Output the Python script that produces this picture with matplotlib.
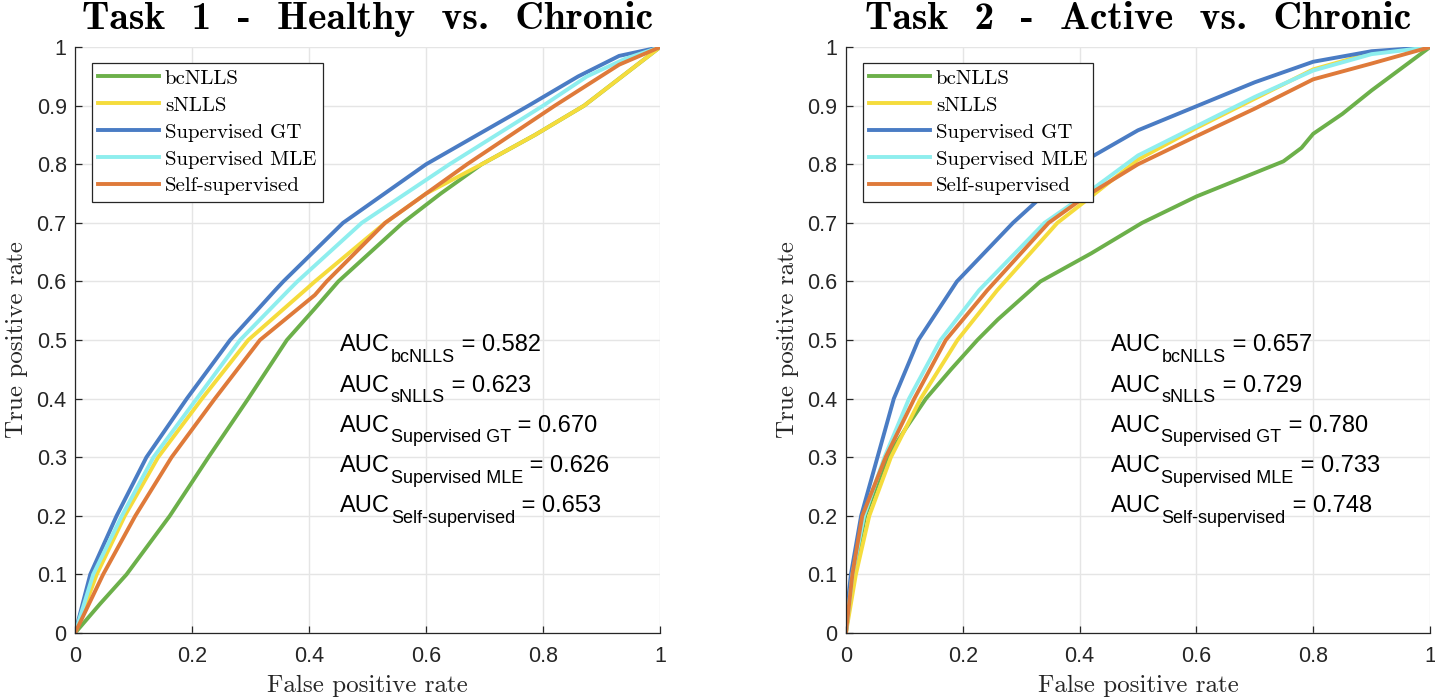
import numpy as np
import matplotlib
matplotlib.use("Agg")
import matplotlib.pyplot as plt
from matplotlib import transforms

methods = ['bcNLLS', 'sNLLS', 'Supervised GT', 'Supervised MLE', 'Self-supervised']
colors = ['#6cb04a', '#f5dc3c', '#4a7cc4', '#8eeeee', '#df7a3a']
titles = ['Task  1  -  Healthy  vs.  Chronic', 'Task  2  -  Active  vs.  Chronic']

# ---- Task 1 : (fpr, tpr)
t1_bc_fpr = [0, 0.043, 0.088, 0.162, 0.228, 0.296, 0.362, 0.41, 0.45, 0.56, 0.625, 0.695, 0.786, 0.87, 1]
t1_bc_tpr = [0, 0.05, 0.1, 0.2, 0.3, 0.4, 0.5, 0.554, 0.6, 0.7, 0.75, 0.8, 0.85, 0.9, 1]
t1_s_fpr = [0, 0.037, 0.085, 0.142, 0.217, 0.296, 0.393, 0.41, 0.53, 0.6, 0.695, 0.786, 0.87, 1]
t1_s_tpr = [0, 0.1, 0.2, 0.3, 0.4, 0.5, 0.585, 0.6, 0.7, 0.75, 0.8, 0.85, 0.9, 1]
t1_gt_fpr = [0, 0.026, 0.071, 0.122, 0.191, 0.265, 0.342, 0.356, 0.458, 0.6, 0.775, 0.86, 0.93, 1]
t1_gt_tpr = [0, 0.1, 0.2, 0.3, 0.4, 0.5, 0.585, 0.6, 0.7, 0.8, 0.9, 0.95, 0.985, 1]
t1_mle_fpr = [0, 0.031, 0.08, 0.134, 0.208, 0.282, 0.365, 0.38, 0.49, 0.64, 0.80, 0.875, 0.94, 1]
t1_mle_tpr = [0, 0.1, 0.2, 0.3, 0.4, 0.5, 0.585, 0.6, 0.7, 0.8, 0.9, 0.95, 0.98, 1]
t1_ss_fpr = [0, 0.048, 0.103, 0.165, 0.239, 0.316, 0.41, 0.43, 0.53, 0.67, 0.82, 0.93, 1]
t1_ss_tpr = [0, 0.1, 0.2, 0.3, 0.4, 0.5, 0.577, 0.6, 0.7, 0.8, 0.9, 0.97, 1]
t1_auc = ['0.582', '0.623', '0.670', '0.626', '0.653']

# ---- Task 2
t2_bc_fpr = [0, 0.0125, 0.033, 0.071, 0.103, 0.137, 0.18, 0.225, 0.26, 0.333, 0.42, 0.507, 0.6, 0.749, 0.78, 0.8, 0.85, 0.9, 0.95, 1]
t2_bc_tpr = [0, 0.1, 0.2, 0.3, 0.35, 0.4, 0.45, 0.5, 0.535, 0.6, 0.648, 0.70, 0.745, 0.805, 0.828, 0.852, 0.886, 0.926, 0.963, 1]
t2_s_fpr = [0, 0.017, 0.04, 0.077, 0.128, 0.191, 0.259, 0.362, 0.42, 0.5, 0.6, 0.7, 0.8, 0.9, 1]
t2_s_tpr = [0, 0.1, 0.2, 0.3, 0.4, 0.5, 0.585, 0.7, 0.745, 0.808, 0.862, 0.912, 0.962, 0.99, 1]
t2_gt_fpr = [0, 0.003, 0.0085, 0.026, 0.04, 0.054, 0.082, 0.124, 0.19, 0.286, 0.33, 0.423, 0.5, 0.6, 0.7, 0.8, 0.9, 1]
t2_gt_tpr = [0, 0.05, 0.1, 0.2, 0.25, 0.3, 0.4, 0.5, 0.6, 0.7, 0.74, 0.814, 0.858, 0.899, 0.94, 0.975, 0.993, 1]
t2_mle_fpr = [0, 0.011, 0.031, 0.066, 0.108, 0.162, 0.228, 0.34, 0.405, 0.5, 0.6, 0.7, 0.8, 0.9, 1]
t2_mle_tpr = [0, 0.1, 0.2, 0.3, 0.4, 0.5, 0.585, 0.7, 0.745, 0.815, 0.865, 0.915, 0.96, 0.988, 1]
t2_ss_fpr = [0, 0.011, 0.028, 0.068, 0.117, 0.171, 0.242, 0.347, 0.41, 0.5, 0.6, 0.7, 0.8, 0.9, 1]
t2_ss_tpr = [0, 0.1, 0.2, 0.3, 0.4, 0.5, 0.585, 0.7, 0.745, 0.80, 0.848, 0.895, 0.945, 0.972, 1]
t2_auc = ['0.657', '0.729', '0.780', '0.733', '0.748']

task1 = [(t1_bc_fpr, t1_bc_tpr), (t1_s_fpr, t1_s_tpr), (t1_gt_fpr, t1_gt_tpr),
         (t1_mle_fpr, t1_mle_tpr), (t1_ss_fpr, t1_ss_tpr)]
task2 = [(t2_bc_fpr, t2_bc_tpr), (t2_s_fpr, t2_s_tpr), (t2_gt_fpr, t2_gt_tpr),
         (t2_mle_fpr, t2_mle_tpr), (t2_ss_fpr, t2_ss_tpr)]

fig = plt.figure(figsize=(14.35, 7), dpi=100)
ax1 = fig.add_axes([0.0523, 0.0957, 0.4077, 0.837])
ax2 = fig.add_axes([0.5895, 0.0957, 0.4070, 0.837])
renderer = fig.canvas.get_renderer()

dark = '#262626'
sans = 'Liberation Sans'


def auc_label(ax, x, y, name, value):
    # MATLAB style  AUC_{name} = value, built from three pieces of text
    t = ax.text(x, y, 'AUC', family=sans, fontsize=17)
    w1 = t.get_window_extent(renderer).width
    tr = transforms.offset_copy(ax.transData, fig=fig, x=w1 + 1, y=-10.5, units='dots')
    s = ax.text(x, y, name, family=sans, fontsize=13, transform=tr)
    w2 = s.get_window_extent(renderer).width
    tr = transforms.offset_copy(ax.transData, fig=fig, x=w1 + w2 + 1, y=0, units='dots')
    ax.text(x, y, ' = ' + value, family=sans, fontsize=17, transform=tr)


for ax, curves, aucs, title in [(ax1, task1, t1_auc, titles[0]), (ax2, task2, t2_auc, titles[1])]:
    for (fpr, tpr), name, c in zip(curves, methods, colors):
        ax.plot(fpr, tpr, color=c, lw=2.8, label=name)
    ax.set_xlim(0, 1)
    ax.set_ylim(0, 1)
    ax.set_xticks(np.arange(0, 1.01, 0.2))
    ax.set_yticks(np.arange(0, 1.01, 0.1))
    ax.set_xticklabels(['0', '0.2', '0.4', '0.6', '0.8', '1'])
    ax.set_yticklabels(['0', '0.1', '0.2', '0.3', '0.4', '0.5', '0.6', '0.7', '0.8', '0.9', '1'])
    ax.grid(True, color='#e5e5e5', lw=1)
    ax.set_axisbelow(True)
    for s in ['top', 'right']:
        ax.spines[s].set_visible(False)
    for s in ['left', 'bottom']:
        ax.spines[s].set_color(dark)
        ax.spines[s].set_linewidth(0.9)
    ax.tick_params(direction='in', length=5, width=0.9, color=dark, labelcolor=dark,
                   labelsize=15.5)
    ax.tick_params(axis='x', pad=9)
    ax.tick_params(axis='y', pad=6)
    for lab in ax.get_xticklabels() + ax.get_yticklabels():
        lab.set_family(sans)
    ax.set_title(title, family='cmb10', fontsize=28.5, pad=13)
    ax.set_xlabel('False positive rate', family='cmr10', fontsize=18, color=dark, labelpad=6)
    ax.set_ylabel('True positive rate', family='cmr10', fontsize=18, color=dark, labelpad=6)
    leg = ax.legend(loc='upper left', bbox_to_anchor=(0.029, 0.973), borderaxespad=0,
                    prop={'family': 'cmr10', 'size': 15}, fancybox=False, framealpha=1,
                    edgecolor=dark, handlelength=2.9, handletextpad=0.3, labelspacing=0.4,
                    borderpad=0.3)
    leg.get_frame().set_linewidth(0.9)
    for i, (name, a) in enumerate(zip(methods, aucs)):
        auc_label(ax, 0.453, 0.481 - i * 0.0688, name, a)

fig.savefig('out.png', dpi=100)
